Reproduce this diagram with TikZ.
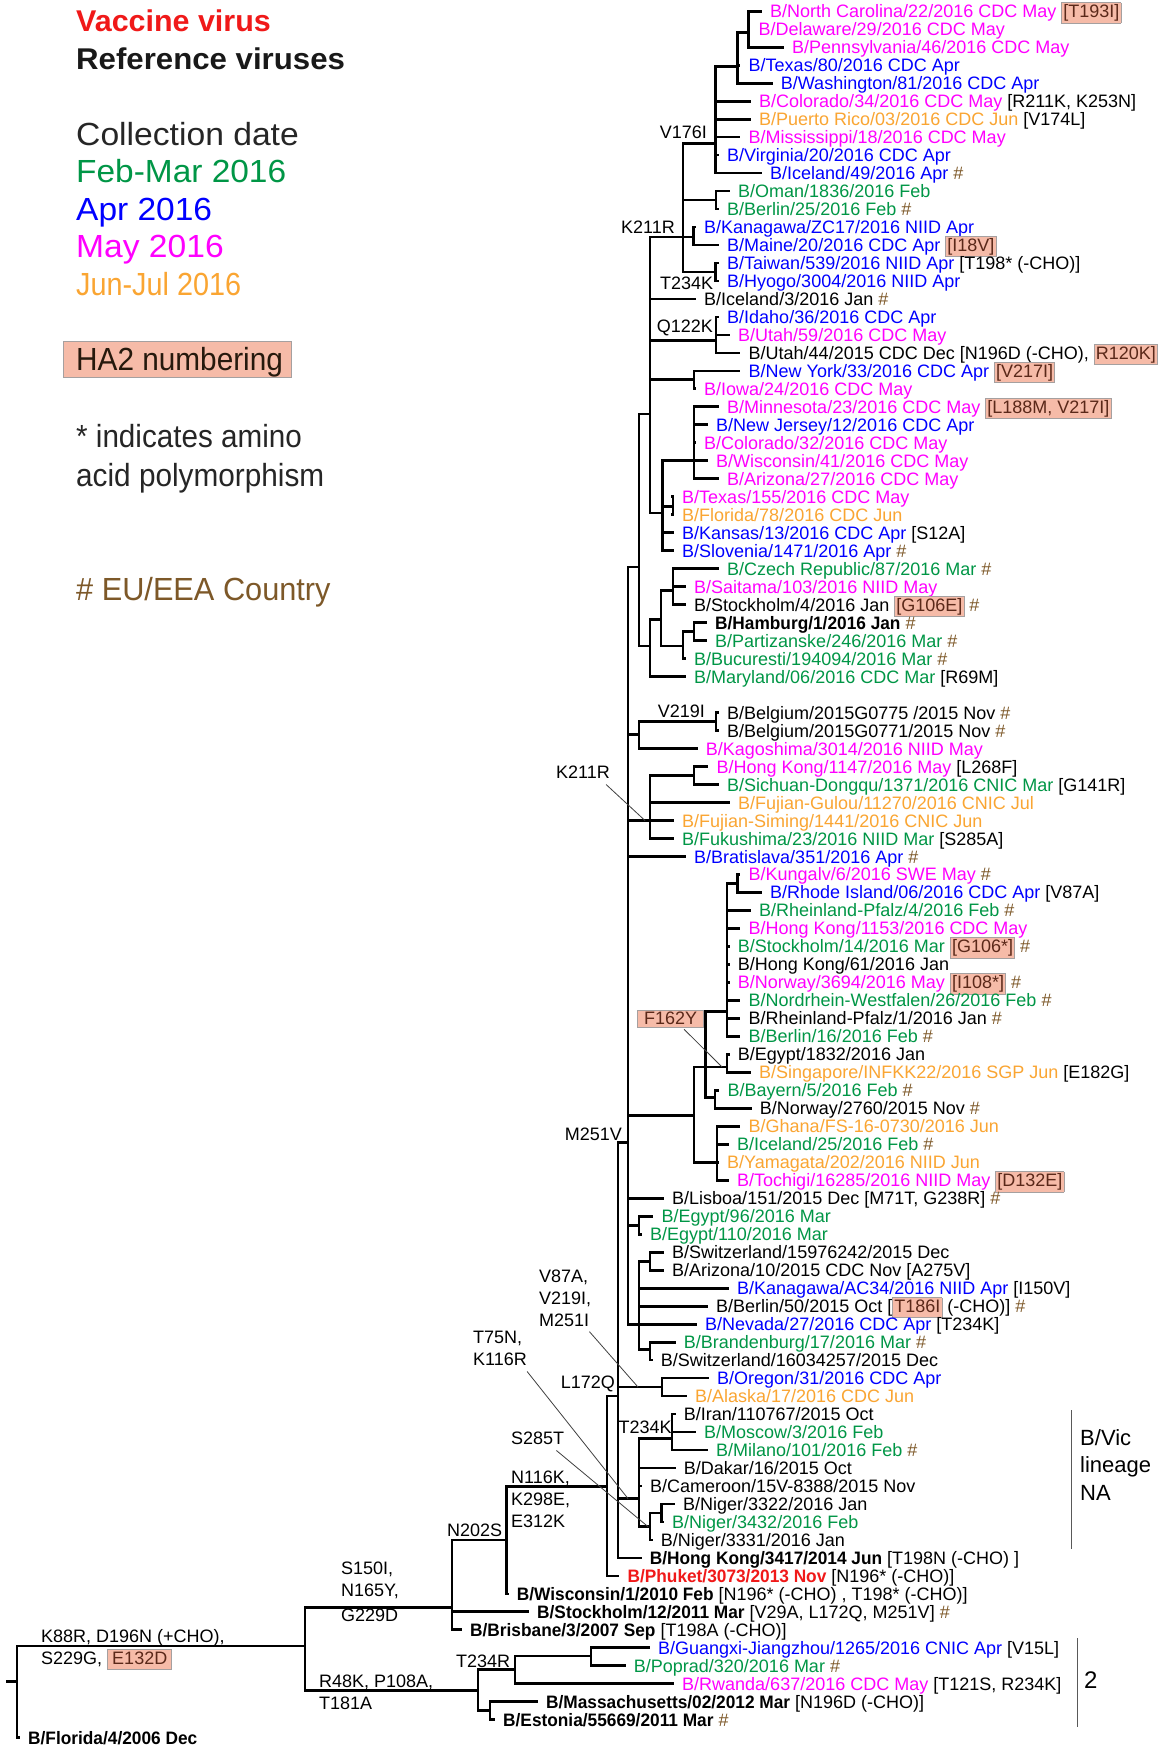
\documentclass[tikz,border=0pt]{standalone}
\usepackage{fontspec}
\setmainfont{Liberation Sans}
\usetikzlibrary{calc}
\definecolor{cgreen}{RGB}{0,150,70}
\definecolor{cblue}{RGB}{0,0,255}
\definecolor{cmag}{RGB}{255,0,255}
\definecolor{corange}{RGB}{250,165,50}
\definecolor{cred}{RGB}{240,25,25}
\definecolor{cbrown}{RGB}{125,88,40}
\definecolor{hlf}{RGB}{246,187,168}
\definecolor{hlb}{RGB}{165,160,160}
\definecolor{hlt}{RGB}{90,40,25}
\newcommand\Cg[1]{\textcolor{cgreen}{#1}}
\newcommand\Cb[1]{\textcolor{cblue}{#1}}
\newcommand\Cm[1]{\textcolor{cmag}{#1}}
\newcommand\Co[1]{\textcolor{corange}{#1}}
\newcommand\HS{\textcolor{cbrown}{\#}}
\newcommand\BB[1]{\scalebox{0.96}[1]{\bfseries #1}}
\setlength\fboxsep{1.2pt}
\setlength\fboxrule{0.8pt}
\newcommand\HL[1]{\fcolorbox{hlb}{hlf}{\textcolor{hlt}{\vrule height 13.5pt depth 3.5pt width 0pt #1}}}
\newcommand\HLw[1]{\fcolorbox{hlb}{hlf}{\textcolor{hlt}{\vrule height 13.5pt depth 3.5pt width 0pt\hspace{3pt}#1\hspace{3pt}}}}
\newcommand\inode[5]{\coordinate (#1) at (#2,{ry(#5)});\draw[br] (#2,{ry(#3)}) -- (#2,{ry(#4)});}
\newcommand\tedge[2]{\draw[br] (#1 |- #2) -- (#2);}
\newcommand\leaf[5]{\node[lab] (#1) at (#4,{ry(#3)}) {#5};\draw[br] (#2 |- #1.west) -- ([xshift=-9.5pt]#1.west);}
\tikzset{
 br/.style={line width=2.8pt, line cap=rect},
 lab/.style={anchor=west, inner sep=0pt, text height=13pt, text depth=0pt, font=\fontsize{18}{18}\selectfont},
 ann/.style={inner sep=0pt, font=\fontsize{18}{22}\selectfont},
 annm/.style={inner sep=0pt, font=\fontsize{18}{22}\selectfont, align=left},
 ldr/.style={line width=0.8pt, draw=black!75},
 brk/.style={line width=1pt, draw=black!65},
 leg/.style={anchor=base west, inner sep=0pt, font=\fontsize{32}{32}\selectfont},
 legb/.style={anchor=base west, inner sep=0pt, font=\fontsize{30}{30}\selectfont\bfseries},
}
\begin{document}
\begin{tikzpicture}[x=1pt,y=-1pt, declare function={ry(\k)=11.2+17.985*\k;}]
\fill[white] (0,0) rectangle (1161,1753);
\useasboundingbox (0,0) rectangle (1161,1753);

% ---------- legend ----------
\node[legb,text=cred] (lvac) at (76,31.7) {\scalebox{1.015}[1]{Vaccine virus}};
\node[legb,text=black!90] (lref) at (76,69.7) {\scalebox{1.04}[1]{Reference viruses}};
\node[leg,text=black!85] (lcol) at (76,145.5) {\scalebox{1.052}[1]{Collection date}};
\node[leg,text=cgreen] (lfeb) at (76,182.5) {\scalebox{1.045}[1]{Feb-Mar 2016}};
\node[leg,text=cblue] (lapr) at (76,220.5) {\scalebox{1.047}[1]{Apr 2016}};
\node[leg,text=cmag] (lmay) at (76,257.5) {\scalebox{1.05}[1]{May 2016}};
\node[leg,text=corange] (ljun) at (76,295.5) {\scalebox{0.90}[1]{Jun-Jul 2016}};
\node[draw=hlb, fill=hlf, line width=1pt, minimum width=228pt, minimum height=36pt, anchor=north west, inner sep=0pt] (ha2box) at (63,341) {};
\node[leg,text=black!80!brown] (ha2) at (76,370.5) {\scalebox{0.93}[1]{HA2 numbering}};
\node[leg,text=black!85] (lind) at (76,447.5) {\scalebox{0.926}[1]{* indicates amino}};
\node[leg,text=black!85] (lacid) at (76,486.5) {\scalebox{0.93}[1]{acid polymorphism}};
\node[leg,text=cbrown] (leu) at (76,600.5) {\scalebox{0.96}[1]{\# EU/EEA Country}};

% ---------- internal nodes ----------
\inode{A}{748.5}{0}{2}{1.2}
\inode{B}{737.7}{1.2}{4}{3.08}
\inode{C}{715.2}{3.08}{9}{7.35}
\inode{D}{683}{7.35}{14.5}{12.55}
\inode{OB}{716}{10}{11}{10.5}
\inode{KM}{693.7}{12}{13}{12.55}
\inode{TH}{715.2}{14}{15}{14.5}
\inode{E}{650}{12.55}{27.9}{22.4}
\inode{QK}{716}{17}{19}{18.3}
\inode{NI}{694}{20}{21}{20.5}
\inode{F}{662.6}{25}{30}{27.9}
\inode{G}{694}{22}{26}{25}
\inode{TF}{673}{27}{28}{27.55}
\inode{H}{639}{22.4}{35.3}{30.9}
\inode{I}{650}{33.8}{37}{35.3}
\inode{J}{661}{32.2}{35.3}{33.8}
\inode{L}{673}{31}{33}{32.2}
\inode{M}{683}{34.5}{36}{35.3}
\inode{N}{694}{34}{35}{34.5}
\inode{K}{628}{30.9}{73}{62.9}
\inode{O}{639}{39.5}{41}{40.2}
\inode{P}{716}{39}{40}{39.5}
\inode{Q}{650}{42.5}{46}{45}
\inode{R}{694}{42}{43}{42.5}
\inode{S}{694}{58.7}{64}{61.4}
\inode{W}{705.5}{55.6}{60.4}{58.7}
\inode{V}{727}{48.5}{57}{55.6}
\inode{KR}{737.7}{48}{49}{48.5}
\inode{X}{727}{58}{59}{58.7}
\inode{Y}{715}{60}{61}{60.4}
\inode{Z}{717}{62}{65}{64}
\inode{EG}{639}{67}{68}{67.5}
\inode{AA}{639}{69.5}{74.4}{73}
\inode{AB}{650}{69}{70}{69.5}
\inode{AC}{650}{74}{75}{74.4}
\inode{T}{618}{62.9}{86}{77}
\inode{AD}{662}{76}{77}{76.5}
\inode{AE}{639}{79.35}{84.26}{82.7}
\inode{AF}{672}{78}{80}{79.35}
\inode{AG}{650}{83.5}{85}{84.26}
\inode{AH}{661.5}{83}{84}{83.5}
\inode{UU}{607}{77}{87}{82.05}
\inode{AI}{506.7}{82.05}{88}{85}
\inode{AJ}{452}{85}{90}{88.75}
\inode{R1}{305}{88.75}{93.35}{90.9}
\inode{R2}{478}{92.2}{94.5}{93.35}
\inode{R3}{515}{91.45}{93}{92.2}
\inode{GP}{591}{91}{92}{91.45}
\inode{R4}{490}{94}{95}{94.5}
\inode{root}{17}{90.9}{96}{92.85}
\draw[br] (7,{ry(92.85)}) -- (root);

% ---------- edges ----------
\tedge{B}{A} \tedge{C}{B} \tedge{D}{C} \tedge{D}{OB} \tedge{D}{KM} \tedge{D}{TH}
\tedge{E}{D} \tedge{E}{QK} \tedge{E}{NI} \tedge{E}{F} \tedge{F}{G} \tedge{F}{TF}
\tedge{H}{E} \tedge{H}{I} \tedge{I}{J} \tedge{J}{L} \tedge{J}{M} \tedge{M}{N}
\tedge{K}{H} \tedge{K}{O} \tedge{O}{P} \tedge{K}{Q} \tedge{Q}{R} \tedge{K}{S}
\tedge{S}{W} \tedge{W}{V} \tedge{V}{KR} \tedge{W}{X} \tedge{W}{Y} \tedge{S}{Z}
\tedge{K}{EG} \tedge{K}{AA} \tedge{AA}{AB} \tedge{AA}{AC}
\tedge{T}{K} \tedge{T}{AD} \tedge{T}{AE} \tedge{AE}{AF} \tedge{AE}{AG} \tedge{AG}{AH}
\tedge{UU}{T} \tedge{AI}{UU} \tedge{AJ}{AI} \tedge{R1}{AJ} \tedge{root}{R1}
\tedge{R1}{R2} \tedge{R2}{R3} \tedge{R3}{GP} \tedge{R2}{R4}

% ---------- leaves ----------
\leaf{nc}{A}{0}{770}{\Cm{B/North Carolina/22/2016 CDC May} \HL{[T193I]}}
\leaf{del}{A}{1}{758.5}{\Cm{B/Delaware/29/2016 CDC May}}
\leaf{pen}{A}{2}{792}{\Cm{B/Pennsylvania/46/2016 CDC May}}
\leaf{txa}{B}{3}{748.5}{\Cb{B/Texas/80/2016 CDC Apr}}
\leaf{wa}{B}{4}{780.7}{\Cb{B/Washington/81/2016 CDC Apr}}
\leaf{coa}{C}{5}{759}{\Cm{B/Colorado/34/2016 CDC May} [R211K, K253N]}
\leaf{pr}{C}{6}{759}{\Co{B/Puerto Rico/03/2016 CDC Jun} [V174L]}
\leaf{ms}{C}{7}{748.5}{\Cm{B/Mississippi/18/2016 CDC May}}
\leaf{va}{C}{8}{727}{\Cb{B/Virginia/20/2016 CDC Apr}}
\leaf{ica}{C}{9}{770}{\Cb{B/Iceland/49/2016 Apr} \HS}
\leaf{om}{OB}{10}{738}{\Cg{B/Oman/1836/2016 Feb}}
\leaf{bea}{OB}{11}{727}{\Cg{B/Berlin/25/2016 Feb} \HS}
\leaf{kzc}{KM}{12}{703.8}{\Cb{B/Kanagawa/ZC17/2016 NIID Apr}}
\leaf{me}{KM}{13}{727}{\Cb{B/Maine/20/2016 CDC Apr} \HL{[I18V]}}
\leaf{tw}{TH}{14}{727}{\Cb{B/Taiwan/539/2016 NIID Apr} [T198* (-CHO)]}
\leaf{hy}{TH}{15}{727}{\Cb{B/Hyogo/3004/2016 NIID Apr}}
\leaf{icb}{E}{16}{704}{B/Iceland/3/2016 Jan \HS}
\leaf{id}{QK}{17}{727}{\Cb{B/Idaho/36/2016 CDC Apr}}
\leaf{uta}{QK}{18}{738}{\Cm{B/Utah/59/2016 CDC May}}
\leaf{utb}{QK}{19}{748.5}{B/Utah/44/2015 CDC Dec [N196D (-CHO), \HL{R120K]}}
\leaf{ny}{NI}{20}{748.5}{\Cb{B/New York/33/2016 CDC Apr} \HL{[V217I]}}
\leaf{ia}{NI}{21}{704}{\Cm{B/Iowa/24/2016 CDC May}}
\leaf{mn}{G}{22}{727}{\Cm{B/Minnesota/23/2016 CDC May} \HL{[L188M, V217I]}}
\leaf{nj}{G}{23}{716}{\Cb{B/New Jersey/12/2016 CDC Apr}}
\leaf{cob}{G}{24}{704}{\Cm{B/Colorado/32/2016 CDC May}}
\leaf{wib}{G}{25}{716}{\Cm{B/Wisconsin/41/2016 CDC May}}
\leaf{aza}{G}{26}{727}{\Cm{B/Arizona/27/2016 CDC May}}
\leaf{txb}{TF}{27}{682}{\Cm{B/Texas/155/2016 CDC May}}
\leaf{fla}{TF}{28}{682}{\Co{B/Florida/78/2016 CDC Jun}}
\leaf{ks}{F}{29}{682}{\Cb{B/Kansas/13/2016 CDC Apr} [S12A]}
\leaf{sl}{F}{30}{682}{\Cb{B/Slovenia/1471/2016 Apr} \HS}
\leaf{cz}{L}{31}{727}{\Cg{B/Czech Republic/87/2016 Mar} \HS}
\leaf{sa}{L}{32}{694}{\Cm{B/Saitama/103/2016 NIID May}}
\leaf{sta}{L}{33}{694}{B/Stockholm/4/2016 Jan \HL{[G106E]} \HS}
\leaf{hh}{N}{34}{715}{\BB{B/Hamburg/1/2016 Jan} \HS}
\leaf{pa}{N}{35}{715}{\Cg{B/Partizanske/246/2016 Mar} \HS}
\leaf{bu}{M}{36}{694}{\Cg{B/Bucuresti/194094/2016 Mar} \HS}
\leaf{md}{I}{37}{694}{\Cg{B/Maryland/06/2016 CDC Mar} [R69M]}
\leaf{bga}{P}{39}{727}{B/Belgium/2015G0775 /2015 Nov \HS}
\leaf{bgb}{P}{40}{727}{B/Belgium/2015G0771/2015 Nov \HS}
\leaf{kg}{O}{41}{705.6}{\Cm{B/Kagoshima/3014/2016 NIID May}}
\leaf{hka}{R}{42}{716.4}{\Cm{B/Hong Kong/1147/2016 May} [L268F]}
\leaf{sc}{R}{43}{727}{\Cg{B/Sichuan-Dongqu/1371/2016 CNIC Mar} [G141R]}
\leaf{fg}{Q}{44}{738}{\Co{B/Fujian-Gulou/11270/2016 CNIC Jul}}
\leaf{fs}{Q}{45}{682}{\Co{B/Fujian-Siming/1441/2016 CNIC Jun}}
\leaf{fk}{Q}{46}{682}{\Cg{B/Fukushima/23/2016 NIID Mar} [S285A]}
\leaf{bra}{K}{47}{694}{\Cb{B/Bratislava/351/2016 Apr} \HS}
\leaf{kv}{KR}{48}{748.5}{\Cm{B/Kungalv/6/2016 SWE May} \HS}
\leaf{ri}{KR}{49}{770}{\Cb{B/Rhode Island/06/2016 CDC Apr} [V87A]}
\leaf{rpa}{V}{50}{759}{\Cg{B/Rheinland-Pfalz/4/2016 Feb} \HS}
\leaf{hkb}{V}{51}{748.5}{\Cm{B/Hong Kong/1153/2016 CDC May}}
\leaf{stb}{V}{52}{737.7}{\Cg{B/Stockholm/14/2016 Mar} \HL{[G106*]} \HS}
\leaf{hkc}{V}{53}{737.7}{B/Hong Kong/61/2016 Jan}
\leaf{noa}{V}{54}{737.7}{\Cm{B/Norway/3694/2016 May} \HL{[I108*]} \HS}
\leaf{nw}{V}{55}{748.5}{\Cg{B/Nordrhein-Westfalen/26/2016 Feb} \HS}
\leaf{rpb}{V}{56}{748.5}{B/Rheinland-Pfalz/1/2016 Jan \HS}
\leaf{beb}{V}{57}{748.5}{\Cg{B/Berlin/16/2016 Feb} \HS}
\leaf{ega}{X}{58}{737.7}{B/Egypt/1832/2016 Jan}
\leaf{sg}{X}{59}{759}{\Co{B/Singapore/INFKK22/2016 SGP Jun} [E182G]}
\leaf{by}{Y}{60}{727.4}{\Cg{B/Bayern/5/2016 Feb} \HS}
\leaf{nob}{Y}{61}{759.6}{B/Norway/2760/2015 Nov \HS}
\leaf{gh}{Z}{62}{748.5}{\Co{B/Ghana/FS-16-0730/2016 Jun}}
\leaf{icc}{Z}{63}{737}{\Cg{B/Iceland/25/2016 Feb} \HS}
\leaf{ya}{Z}{64}{727}{\Co{B/Yamagata/202/2016 NIID Jun}}
\leaf{tg}{Z}{65}{737}{\Cm{B/Tochigi/16285/2016 NIID May} \HL{[D132E]}}
\leaf{lb}{K}{66}{672}{B/Lisboa/151/2015 Dec [M71T, G238R] \HS}
\leaf{egb}{EG}{67}{661.5}{\Cg{B/Egypt/96/2016 Mar}}
\leaf{egc}{EG}{68}{650}{\Cg{B/Egypt/110/2016 Mar}}
\leaf{swa}{AB}{69}{672}{B/Switzerland/15976242/2015 Dec}
\leaf{azb}{AB}{70}{672}{B/Arizona/10/2015 CDC Nov [A275V]}
\leaf{kac}{AA}{71}{737}{\Cb{B/Kanagawa/AC34/2016 NIID Apr} [I150V]}
\leaf{bec}{AA}{72}{716}{B/Berlin/50/2015 Oct [\HL{T186I} (-CHO)] \HS}
\leaf{nv}{AA}{73}{705}{\Cb{B/Nevada/27/2016 CDC Apr} [T234K]}
\leaf{bd}{AC}{74}{683.7}{\Cg{B/Brandenburg/17/2016 Mar} \HS}
\leaf{swb}{AC}{75}{660.7}{B/Switzerland/16034257/2015 Dec}
\leaf{og}{AD}{76}{717}{\Cb{B/Oregon/31/2016 CDC Apr}}
\leaf{ak}{AD}{77}{694.8}{\Co{B/Alaska/17/2016 CDC Jun}}
\leaf{ir}{AF}{78}{683.7}{B/Iran/110767/2015 Oct}
\leaf{mo}{AF}{79}{704}{\Cg{B/Moscow/3/2016 Feb}}
\leaf{mi}{AF}{80}{716}{\Cg{B/Milano/101/2016 Feb} \HS}
\leaf{dk}{AE}{81}{683.7}{B/Dakar/16/2015 Oct}
\leaf{cm}{AE}{82}{650}{B/Cameroon/15V-8388/2015 Nov}
\leaf{nga}{AH}{83}{683}{B/Niger/3322/2016 Jan}
\leaf{ngb}{AH}{84}{672}{\Cg{B/Niger/3432/2016 Feb}}
\leaf{ngc}{AG}{85}{660.7}{B/Niger/3331/2016 Jan}
\leaf{hkd}{T}{86}{649.6}{\BB{B/Hong Kong/3417/2014 Jun} [T198N (-CHO) ]}
\leaf{ph}{UU}{87}{627.4}{\textcolor{cred}{\BB{B/Phuket/3073/2013 Nov}} [N196* (-CHO)]}
\leaf{wis}{AI}{88}{516.7}{\BB{B/Wisconsin/1/2010 Feb} [N196* (-CHO) , T198* (-CHO)]}
\leaf{stc}{AJ}{89}{537}{\BB{B/Stockholm/12/2011 Mar} [V29A, L172Q, M251V] \HS}
\leaf{bri}{AJ}{90}{470}{\BB{B/Brisbane/3/2007 Sep} [T198A (-CHO)]}
\leaf{gx}{GP}{91}{657.8}{\Cb{B/Guangxi-Jiangzhou/1265/2016 CNIC Apr} [V15L]}
\leaf{pp}{GP}{92}{633.7}{\Cg{B/Poprad/320/2016 Mar} \HS}
\leaf{rw}{R3}{93}{682}{\Cm{B/Rwanda/637/2016 CDC May} [T121S, R234K]}
\leaf{ma}{R4}{94}{546}{\BB{B/Massachusetts/02/2012 Mar} [N196D (-CHO)]}
\leaf{es}{R4}{95}{503}{\BB{B/Estonia/55669/2011 Mar} \HS}
\leaf{flb}{root}{96}{28}{\BB{B/Florida/4/2006 Dec}}

% ---------- mutation labels ----------
\node[ann,anchor=south east] (v176) at (707,138.5) {V176I};
\node[ann,anchor=south east] (k211a) at (675,233.5) {K211R};
\node[ann,anchor=south west] (t234a) at (660,289.5) {T234K};
\node[ann,anchor=south east] (q122) at (713,336.5) {Q122K};
\node[ann,anchor=south east] (v219) at (705,717.5) {V219I};
\node[ann,anchor=south west] (k211b) at (556,778.5) {K211R};
\node[ann, fill=hlf, draw=hlb, line width=0.8pt, text=hlt, inner xsep=6.5pt, inner ysep=2pt, text height=12.9pt, text depth=0pt] (f162) at (670.7,1018.5) {F162Y};
\node[ann,anchor=south east] (m251) at (622,1140.5) {M251V};
\node[annm,anchor=north west] (v87) at (539,1269.5) {V87A,\\V219I,\\M251I};
\node[annm,anchor=north west] (t75) at (473,1330.5) {T75N,\\K116R};
\node[ann,anchor=south east] (l172) at (615,1392.5) {L172Q};
\node[ann,anchor=south west] (t234b) at (618.5,1433.5) {T234K};
\node[ann,anchor=south west] (s285) at (511,1444.5) {S285T};
\node[annm,anchor=north west] (n116) at (511,1470.5) {N116K,\\K298E,\\E312K};
\node[ann,anchor=south west] (n202) at (447,1536.5) {N202S};
\node[annm,anchor=north west] (s150) at (341,1561.5) {S150I,\\N165Y,\\[3pt]G229D};
\node[annm,anchor=north west] (k88) at (41,1629.5) {K88R, D196N (+CHO),\\S229G, \HLw{E132D}};
\node[annm,anchor=north west] (r48) at (319,1674.5) {R48K, P108A,\\T181A};
\node[ann,anchor=south west] (t234r) at (456,1667.5) {T234R};

% ---------- leader lines ----------
\coordinate (lk2) at (645,{ry(45)});
\coordinate (lf162) at (722,{ry(58.7)});
\coordinate (lv87) at (638,{ry(76.5)});
\coordinate (lt75) at (628,{ry(82.7)});
\coordinate (ls285) at (648,{ry(84.26)});
\draw[ldr] ($(k211b.south east)+(-4,6)$) -- (lk2);
\draw[ldr] ($(f162.south east)+(-20,2)$) -- (lf162);
\draw[ldr] ($(v87.south east)+(-2,5)$) -- (lv87);
\draw[ldr] ($(t75.south east)+(0,6)$) -- (lt75);
\draw[ldr] ($(s285.south east)+(-8,6)$) -- (ls285);

% ---------- brackets ----------
\draw[brk] (1071,1410) -- (1071,1549);
\node[anchor=north west, align=left, inner sep=0pt, font=\fontsize{22}{27.5}\selectfont] (bvic) at (1080,1429) {B/Vic\\lineage\\NA};
\draw[brk] (1077,1638) -- (1077,1727);
\node[anchor=west, inner sep=0pt, font=\fontsize{24}{24}\selectfont] (two) at (1084,1680) {2};
\end{tikzpicture}
\end{document}
